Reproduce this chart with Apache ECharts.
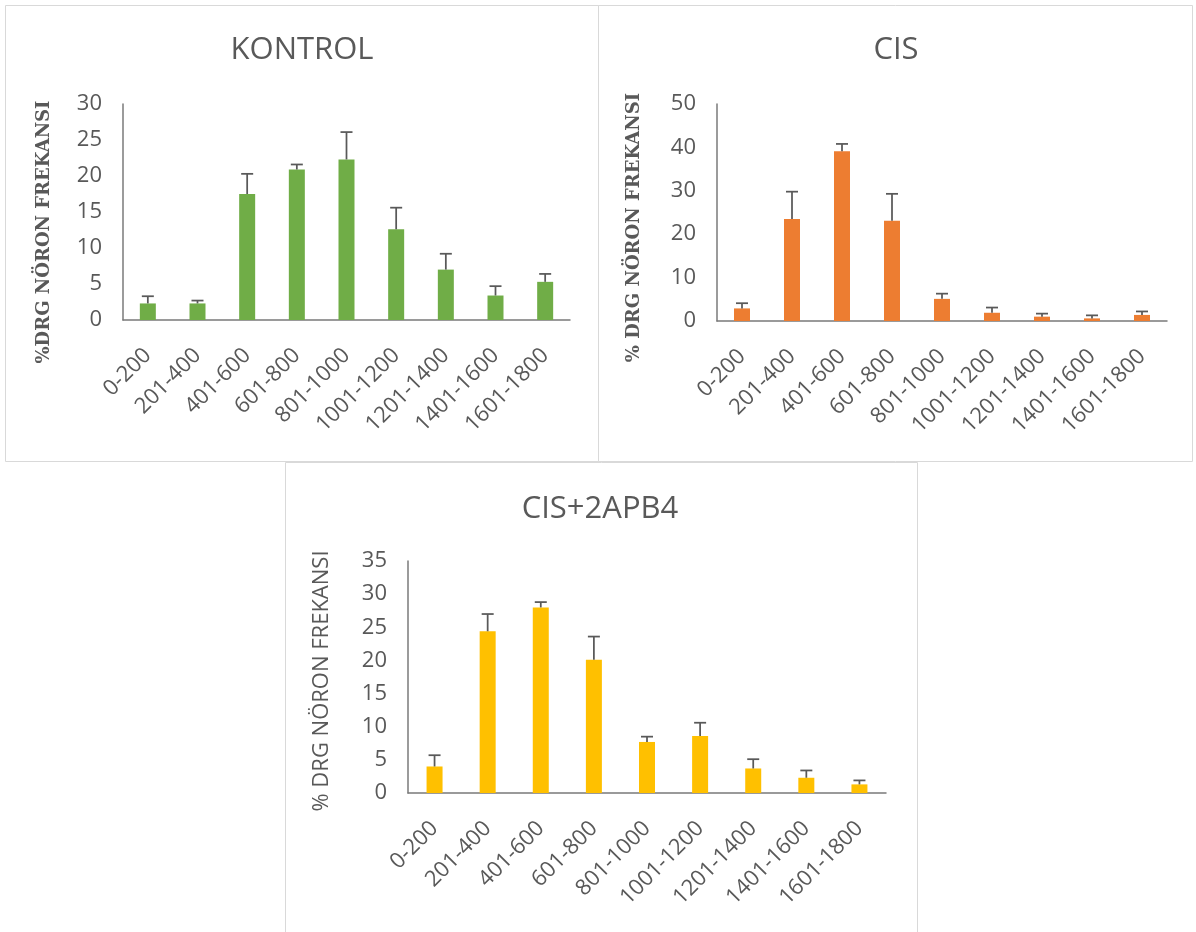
<!DOCTYPE html>
<html>
<head>
<meta charset="utf-8">
<title>DRG nöron frekansı</title>
<script src="https://cdn.jsdelivr.net/npm/echarts@6/dist/echarts.min.js"></script>
<style>
  html, body { margin: 0; padding: 0; background: #fff; }
  #chart { width: 1196px; height: 932px; }
</style>
</head>
<body>
<div id="chart"></div>
<script>
// neuron size classes (x axis)
const categories = ["0-200", "201-400", "401-600", "601-800", "801-1000",
  "1001-1200", "1201-1400", "1401-1600", "1601-1800"];

// KONTROL
const kontrolValues = [2.3, 2.3, 17.5, 20.9, 22.3, 12.6, 7.0, 3.4, 5.3];
const kontrolErrors = [1.0, 0.4, 2.8, 0.7, 3.8, 3.0, 2.2, 1.3, 1.1];

// CIS
const cisValues = [2.9, 23.5, 39.1, 23.1, 5.1, 1.9, 1.0, 0.6, 1.4];
const cisErrors = [1.2, 6.3, 1.7, 6.2, 1.2, 1.2, 0.7, 0.7, 0.8];

// CIS+2APB4
const apbValues = [4.0, 24.4, 28.0, 20.1, 7.7, 8.6, 3.7, 2.3, 1.3];
const apbErrors = [1.7, 2.6, 0.8, 3.5, 0.8, 2.0, 1.4, 1.1, 0.6];

// y axis ranges [max, interval]
const kontrolAxis = [30, 5];
const cisAxis = [50, 10];
const apbAxis = [35, 5];

const textGray = "#595959";
const axisGray = "#7a7a7a";
const sans = "'Open Sans', 'Noto Sans', sans-serif";
const serif = "'DejaVu Serif', serif";

function xAxisFor(idx) {
  return {
    type: "category",
    gridIndex: idx,
    data: categories,
    axisTick: { show: false },
    axisLine: { lineStyle: { color: axisGray, width: 1.5 } },
    axisLabel: {
      rotate: 45,
      interval: 0,
      margin: 32,
      fontSize: 22,
      fontFamily: sans,
      color: textGray
    }
  };
}

function yAxisFor(idx, range, name, font, gap, pad) {
  return {
    type: "value",
    gridIndex: idx,
    min: 0,
    max: range[0],
    interval: range[1],
    name: name,
    nameLocation: "middle",
    nameGap: gap,
    nameTextStyle: {
      fontFamily: font,
      fontWeight: font === serif ? "bold" : "normal",
      fontSize: font === serif ? 18 : 22,
      color: textGray,
      padding: pad
    },
    axisLine: { show: true, lineStyle: { color: axisGray, width: 1.5 } },
    axisTick: { show: false },
    splitLine: { show: false },
    axisLabel: { margin: 21, fontSize: 22, fontFamily: sans, color: textGray }
  };
}

function barsFor(idx, values, color) {
  return {
    type: "bar",
    xAxisIndex: idx,
    yAxisIndex: idx,
    data: values,
    barWidth: 16,
    itemStyle: { color: color },
    silent: true
  };
}

// upper error bars only, like the Excel original
function errorsFor(idx, values, errors) {
  return {
    type: "custom",
    xAxisIndex: idx,
    yAxisIndex: idx,
    data: values.map((v, i) => [i, v, v + errors[i]]),
    z: 10,
    silent: true,
    renderItem: (params, api) => {
      const base = api.coord([api.value(0), api.value(1)]);
      const top = api.coord([api.value(0), api.value(2)]);
      const half = 6;
      const style = { stroke: textGray, lineWidth: 1.75 };
      return {
        type: "group",
        children: [
          { type: "line", shape: { x1: base[0], y1: base[1], x2: top[0], y2: top[1] }, style: style },
          { type: "line", shape: { x1: top[0] - half, y1: top[1], x2: top[0] + half, y2: top[1] }, style: style }
        ]
      };
    }
  };
}

const titleStyle = { fontFamily: sans, fontSize: 31, fontWeight: "normal", color: textGray };

const option = {
  animation: false,
  backgroundColor: "#fff",
  title: [
    { text: "KONTROL", left: 302, top: 35, textAlign: "center", padding: 0, textStyle: titleStyle },
    { text: "CIS", left: 896, top: 35, textAlign: "center", padding: 0, textStyle: titleStyle },
    { text: "CIS+2APB4", left: 600, top: 494, textAlign: "center", padding: 0, textStyle: titleStyle }
  ],
  graphic: [
    { type: "rect", shape: { x: 5.5, y: 5.5, width: 593, height: 456 }, style: { fill: "none", stroke: "#d9d9d9", lineWidth: 1 } },
    { type: "rect", shape: { x: 598.5, y: 5.5, width: 594, height: 456 }, style: { fill: "none", stroke: "#d9d9d9", lineWidth: 1 } },
    { type: "rect", shape: { x: 285.5, y: 462.5, width: 632, height: 480 }, style: { fill: "none", stroke: "#d9d9d9", lineWidth: 1 } }
  ],
  grid: [
    { left: 123, top: 104, width: 447, height: 216 },
    { left: 717, top: 104, width: 450, height: 217 },
    { left: 408, top: 561, width: 478, height: 232 }
  ],
  xAxis: [xAxisFor(0), xAxisFor(1), xAxisFor(2)],
  yAxis: [
    yAxisFor(0, kontrolAxis, "%DRG NÖRON FREKANSI", serif, 70, [0, 40, 0, 0]),
    yAxisFor(1, cisAxis, "% DRG NÖRON FREKANSI", serif, 74, [0, 30, 0, 0]),
    yAxisFor(2, apbAxis, "% DRG NÖRON FREKANSI", sans, 75, [0, 8, 0, 0])
  ],
  series: [
    barsFor(0, kontrolValues, "#70AD47"),
    errorsFor(0, kontrolValues, kontrolErrors),
    barsFor(1, cisValues, "#ED7D31"),
    errorsFor(1, cisValues, cisErrors),
    barsFor(2, apbValues, "#FFC000"),
    errorsFor(2, apbValues, apbErrors)
  ]
};

const chart = echarts.init(document.getElementById("chart"));
chart.setOption(option);
window.addEventListener("resize", () => chart.resize());
</script>
</body>
</html>
